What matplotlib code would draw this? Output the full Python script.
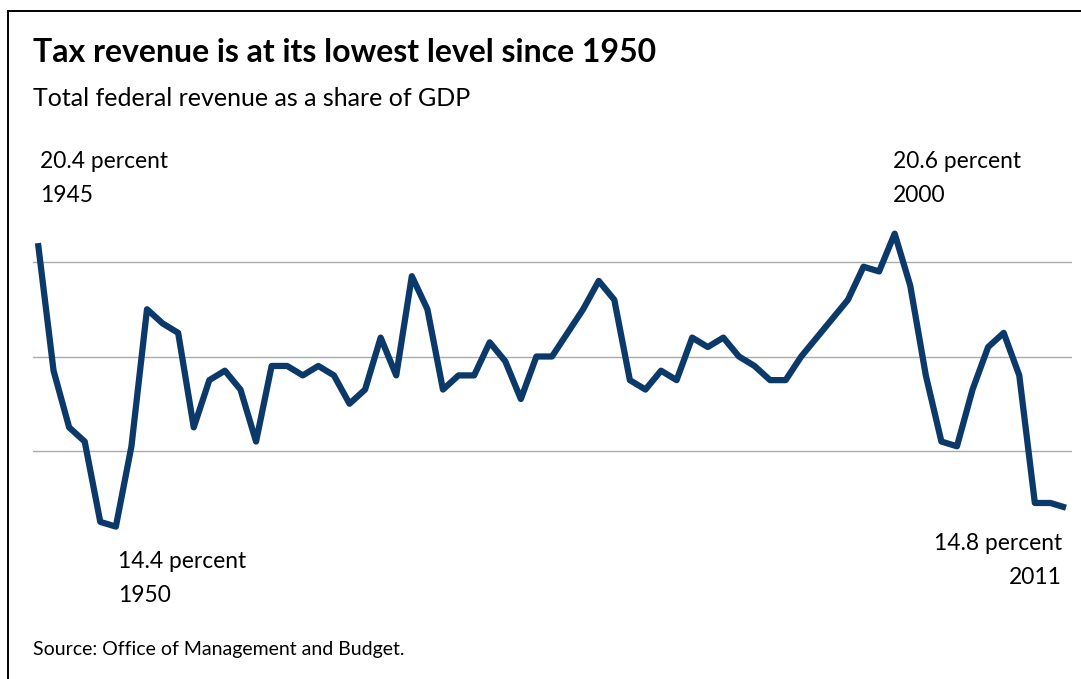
import matplotlib
matplotlib.use("Agg")
import matplotlib.pyplot as plt
from matplotlib.lines import Line2D

# OMB historical table 1.2: receipts as share of GDP
years = list(range(1945, 2012))
revenue = [20.4, 17.7, 16.5, 16.2, 14.5, 14.4, 16.1, 19.0, 18.7, 18.5,
           16.5, 17.5, 17.7, 17.3, 16.2, 17.8, 17.8, 17.6, 17.8, 17.6,
           17.0, 17.3, 18.4, 17.6, 19.7, 19.0, 17.3, 17.6, 17.6, 18.3,
           17.9, 17.1, 18.0, 18.0, 18.5, 19.0, 19.6, 19.2, 17.5, 17.3,
           17.7, 17.5, 18.4, 18.2, 18.4, 18.0, 17.8, 17.5, 17.5, 18.0,
           18.4, 18.8, 19.2, 19.9, 19.8, 20.6, 19.5, 17.6, 16.2, 16.1,
           17.3, 18.2, 18.5, 17.6, 14.9, 14.9, 14.8]
grid_levels = [16, 18, 20]

title = "Tax revenue is at its lowest level since 1950"
subtitle = "Total federal revenue as a share of GDP"
source = "Source: Office of Management and Budget."

W, H = 1081, 679
fig = plt.figure(figsize=(W / 100, H / 100), dpi=100)

def fx(px):
    return px / W

def fy(py):
    return 1 - py / H

# axes spans pixel 33..1072 horizontally, 130..620 vertically
ax = fig.add_axes([fx(33), fy(620), fx(1072) - fx(33), (620 - 130) / H])
ax.set_xlim(1944.68, 2011.385)
px_per_pct = 47.25
ax.set_ylim(16 - (620 - 451) / px_per_pct, 20 + (262 - 130) / px_per_pct)
for g in grid_levels:
    ax.axhline(g, color="#ababab", lw=1.0, zorder=1)
ax.plot(years, revenue, color="#0b3a6a", lw=4.5, solid_joinstyle="round",
        solid_capstyle="butt", zorder=3)
ax.axis("off")

# frame (top and left only)
fig.add_artist(Line2D([fx(8), 1], [fy(10.5), fy(10.5)], color="black", lw=1.4))
fig.add_artist(Line2D([fx(8), fx(8)], [fy(10.5), 0], color="black", lw=1.4))

font = "Lato"
fig.text(fx(33), fy(52), title, fontsize=23, fontweight="bold", family=font,
         va="center", ha="left")
fig.text(fx(33), fy(99), subtitle, fontsize=18, family=font, va="center", ha="left")

lab = dict(fontsize=16.4, family=font, va="center")
fig.text(fx(40), fy(162), "20.4 percent", ha="left", **lab)
fig.text(fx(40), fy(196), "1945", ha="left", **lab)
fig.text(fx(118), fy(561), "14.4 percent", ha="left", **lab)
fig.text(fx(118), fy(596), "1950", ha="left", **lab)
fig.text(fx(893), fy(162), "20.6 percent", ha="left", **lab)
fig.text(fx(893), fy(196), "2000", ha="left", **lab)
fig.text(fx(1062), fy(544), "14.8 percent", ha="right", **lab)
fig.text(fx(1062), fy(578), "2011", ha="right", **lab)

fig.text(fx(33), fy(650), source, fontsize=14, family=font, va="center", ha="left")

fig.savefig("out.png", dpi=100)
